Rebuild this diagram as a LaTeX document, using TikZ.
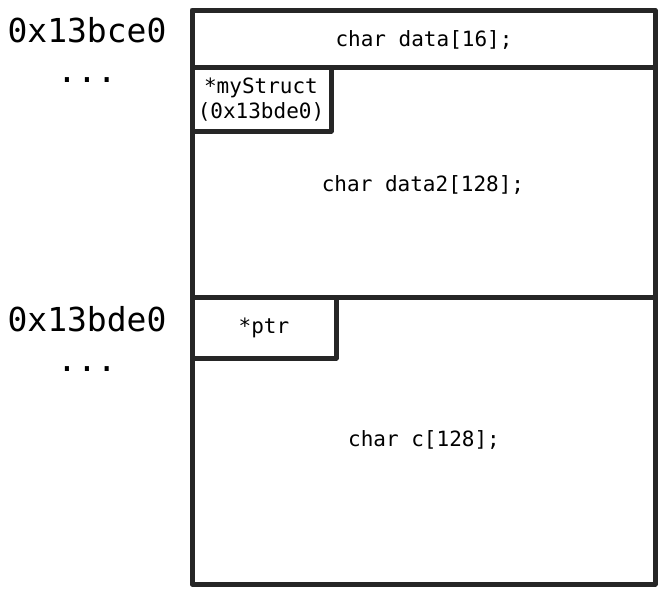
\documentclass[tikz,border=0pt]{standalone}
\usepackage{fontspec}
\setmainfont{DejaVu Sans Mono}
\setmonofont{DejaVu Sans Mono}
\usetikzlibrary{positioning}

\tikzset{
  wall/.style={draw=black!85,line width=5pt,line join=round},
  addr/.style={font=\fontsize{33}{36}\selectfont,inner sep=0pt},
  field/.style={font=\fontsize{21}{25}\selectfont,inner sep=0pt,align=center}
}

\begin{document}
\begin{tikzpicture}[x=1pt,y=-1pt]
  \useasboundingbox (0,0) rectangle (662,589);
  % memory block and its parts
  \draw[wall] (192,10) rectangle (655,584);
  \draw[wall] (192,67) -- (655,67);
  \draw[wall] (192,297) -- (655,297);
  \draw[wall] (192,67) rectangle (331,131);
  \draw[wall] (192,297) rectangle (336,358);
  % addresses
  \node[addr] (adrA) at (87,30) {0x13bce0};
  \node[addr,below=34pt of adrA] (dotsA) {...};
  \node[addr] (adrB) at (87,319) {0x13bde0};
  \node[addr,below=34pt of adrB] (dotsB) {...};
  % fields
  \node[field] (data) at (424,40) {char data[16];};
  \node[field] (mystruct) at (261,100) {*myStruct\\(0x13bde0)};
  \node[field] (data2) at (423,185) {char data2[128];};
  \node[field] (ptr) at (264,328) {*ptr};
  \node[field] (cbuf) at (424,440) {char c[128];};
\end{tikzpicture}
\end{document}
